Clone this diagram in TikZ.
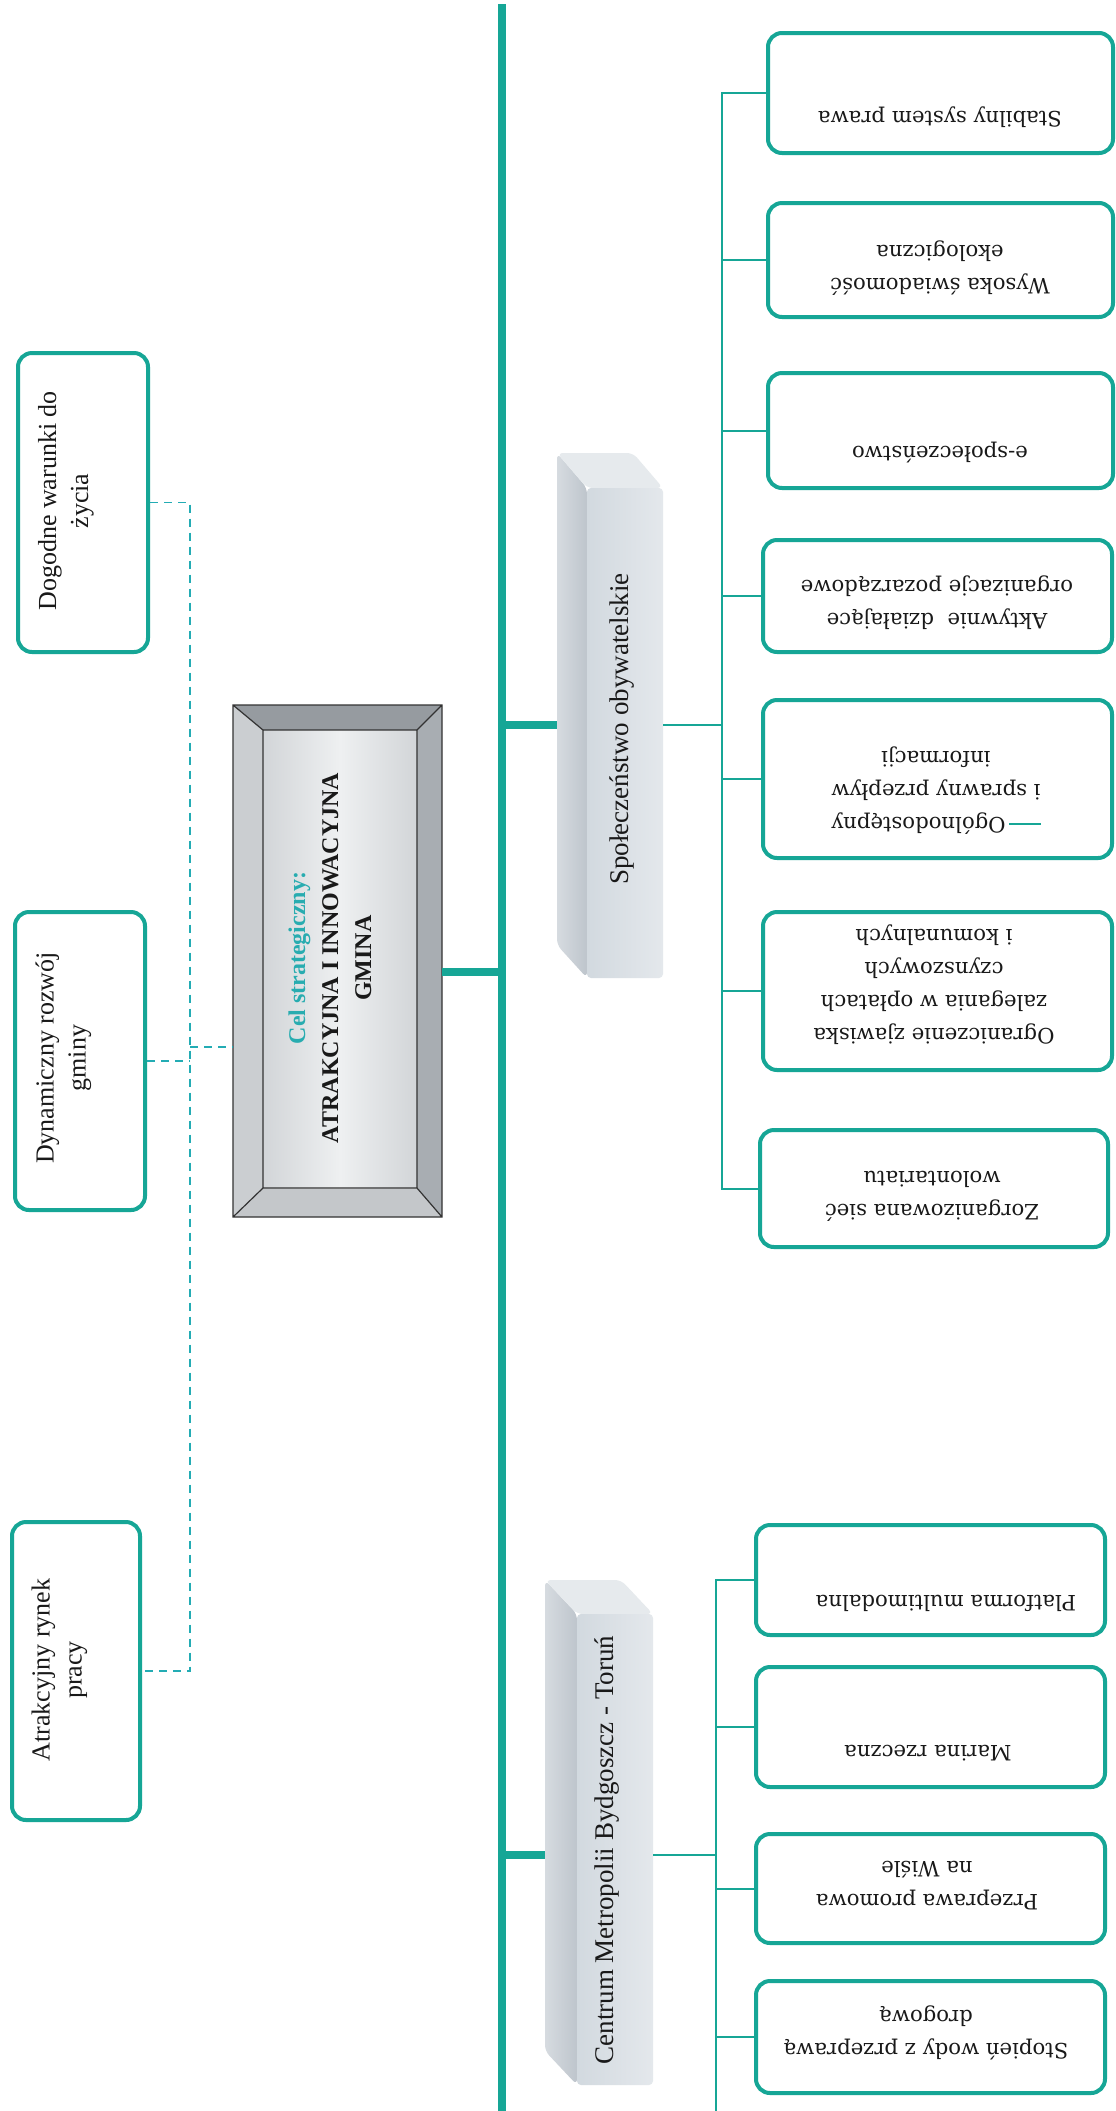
\documentclass[tikz,border=0pt]{standalone}
\usepackage{fontspec}
\setmainfont{Liberation Serif}
\newfontfamily\boxfont{DejaVu Serif}
\usetikzlibrary{calc}
\definecolor{teal1}{RGB}{22,166,150}
\definecolor{dashc}{RGB}{35,172,180}
\definecolor{celc}{RGB}{40,172,176}
\definecolor{txt}{RGB}{25,25,25}
\definecolor{barfront}{RGB}{210,217,223}
\definecolor{barfrontR}{RGB}{228,232,236}
\definecolor{barleft}{RGB}{190,197,204}
\definecolor{barleftL}{RGB}{214,219,224}
\definecolor{bartop}{RGB}{230,234,237}
\definecolor{bevtop}{RGB}{150,155,160}
\definecolor{bevright}{RGB}{168,173,178}
\definecolor{bevleft}{RGB}{203,206,209}
\definecolor{bevbot}{RGB}{196,199,202}
\definecolor{faceA}{RGB}{210,213,216}
\definecolor{faceB}{RGB}{238,240,241}
\begin{document}
\begin{tikzpicture}[x=0.5pt,y=-0.5pt,
  tealbox/.style={draw=teal1,line width=2pt,rounded corners=7pt,fill=white,inner sep=0pt},
  ltext/.style={rotate=90,align=center,font=\fontsize{13}{16}\selectfont,text=txt,inner sep=0pt},
  rtext/.style={rotate=180,align=center,font=\boxfont\fontsize{10.6}{16.5}\selectfont,text=txt,inner sep=0pt},
  bartext/.style={rotate=90,font=\fontsize{13.5}{16}\selectfont,text=txt,inner sep=0pt},
  ctext/.style={rotate=90,align=center,font=\bfseries\fontsize{12}{16.5}\selectfont,text=txt,inner sep=0pt},
  mainline/.style={draw=teal1,line width=4pt},
  thickconn/.style={draw=teal1,line width=4pt},
  thinconn/.style={draw=teal1,line width=1pt},
  dashconn/.style={draw=dashc,line width=0.9pt,dash pattern=on 4pt off 3pt},
  anchorbox/.style={inner sep=0pt,outer sep=0pt}
]
\useasboundingbox (0,0) rectangle (1115,2111);
\fill[white] (0,0) rectangle (1115,2111);

% ---------- main trunk ----------
\coordinate (mtop) at (502,4);
\coordinate (mbot) at (502,2111);
\draw[mainline] (mtop) -- (mbot);

% ---------- central box ----------
\fill[bevtop] (233,705) -- (442,705) -- (417,730) -- (263,730) -- cycle;
\fill[bevright] (442,705) -- (442,1217) -- (417,1188) -- (417,730) -- cycle;
\fill[bevbot] (233,1217) -- (442,1217) -- (417,1188) -- (263,1188) -- cycle;
\fill[bevleft] (233,705) -- (263,730) -- (263,1188) -- (233,1217) -- cycle;
\shade[left color=faceA,right color=faceA,middle color=faceB] (263,730) rectangle (417,1188);
\draw[line width=0.6pt,black!80] (233,705) rectangle (442,1217)
  (263,730) rectangle (417,1188)
  (233,705) -- (263,730) (442,705) -- (417,730)
  (442,1217) -- (417,1188) (233,1217) -- (263,1188);
\node[anchorbox,minimum width=104.5pt,minimum height=256pt] (cbox) at (337.5,961) {};
\node[ctext] (ct) at (330,958) {{\color{celc}Cel strategiczny:}\\ATRAKCYJNA I INNOWACYJNA\\GMINA};

% ---------- bar 1: Spoleczenstwo obywatelskie ----------
\shade[left color=barleftL,right color=barleft,rounded corners=3pt] (557,453) -- (587,488) -- (587,978) -- (557,945) -- cycle;
\fill[bartop,rounded corners=3pt] (557,453) -- (633,453) -- (663,488) -- (587,488) -- cycle;
\shade[left color=barfront,right color=barfrontR,rounded corners=2pt] (587,488) rectangle (663,978);
\node[anchorbox,minimum width=38pt,minimum height=245pt] (bar1) at (625,733) {};
\node[bartext] (bt1) at (622,729) {Społeczeństwo obywatelskie};

% ---------- bar 2: Centrum Metropolii ----------
\shade[left color=barleftL,right color=barleft,rounded corners=3pt] (545,1580) -- (577,1614) -- (577,2085) -- (545,2051) -- cycle;
\fill[bartop,rounded corners=3pt] (545,1580) -- (621,1580) -- (653,1614) -- (577,1614) -- cycle;
\shade[left color=barfront,right color=barfrontR,rounded corners=2pt] (577,1614) rectangle (653,2085);
\node[anchorbox,minimum width=38pt,minimum height=235.5pt] (bar2) at (615,1849.5) {};
\node[bartext] (bt2) at (607,1850) {Centrum Metropolii Bydgoszcz - Toruń};

% ---------- left boxes ----------
\node[tealbox,minimum width=65pt,minimum height=149.5pt] (L1) at (83,502.5) {};
\node[ltext] (s1) at (66,501) {Dogodne warunki do\\życia};
\node[tealbox,minimum width=65pt,minimum height=149pt] (L2) at (80,1061) {};
\node[ltext] (s2) at (63.5,1058) {Dynamiczny rozwój\\gminy};
\node[tealbox,minimum width=64pt,minimum height=149pt] (L3) at (76,1671) {};
\node[ltext] (s3) at (59.5,1670) {Atrakcyjny rynek\\pracy};

% ---------- right boxes, upper group ----------
\node[tealbox,minimum width=172.5pt,minimum height=60pt] (b1) at (940.5,93) {};
\node[rtext] (t1) at (940,117) {Stabilny system prawa};
\node[tealbox,minimum width=172.5pt,minimum height=57pt] (b2) at (940.5,260) {};
\node[rtext] (t2) at (940,268) {Wysoka świadomość\\ekologiczna};
\node[tealbox,minimum width=172.5pt,minimum height=57.5pt] (b3) at (940.5,430.5) {};
\node[rtext] (t3) at (940,453) {e-społeczeństwo};
\node[tealbox,minimum width=174.5pt,minimum height=56pt] (b4) at (937.5,596) {};
\node[rtext] (t4) at (937,603) {Aktywnie\ \ działające\\organizacje pozarządowe};
\node[tealbox,minimum width=174.5pt,minimum height=79pt] (b5) at (937.5,779) {};
\node[rtext] (t5) at (936,791) {{\color{teal1}\rule[2.5pt]{16pt}{1pt}}\hspace{1.5pt}Ogólnodostępny\\i sprawny przepływ\\informacji};
\node[tealbox,minimum width=174.5pt,minimum height=79pt] (b6) at (937.5,991) {};
\node[rtext] (t6) at (934,985) {Ograniczenie zjawiska\\zalegania w opłatach\\czynszowych\\i komunalnych};
\node[tealbox,minimum width=174pt,minimum height=58.5pt] (b7) at (934,1188.5) {};
\node[rtext] (t7) at (932,1196) {Zorganizowana sieć\\wolontariatu};

% ---------- right boxes, lower group ----------
\node[tealbox,minimum width=174.5pt,minimum height=55pt] (p1) at (930.5,1580) {};
\node[rtext] (q1) at (946,1603) {Platforma multimodalna};
\node[tealbox,minimum width=174.5pt,minimum height=60pt] (p2) at (930.5,1727) {};
\node[rtext] (q2) at (928,1753) {Marina rzeczna};
\node[tealbox,minimum width=174.5pt,minimum height=54.5pt] (p3) at (930.5,1888.5) {};
\node[rtext] (q3) at (927,1886) {Przeprawa promowa\\na Wiśle};
\node[tealbox,minimum width=174.5pt,minimum height=56pt] (p4) at (930.5,2037) {};
\node[rtext] (q4) at (926,2033) {Stopień wody z przeprawą\\drogową};

% ---------- connectors: centre ----------
\coordinate (jC) at (502,972);
\draw[thickconn] (cbox.east |- jC) -- (jC);

% ---------- connectors: left dashed ----------
\coordinate (dv) at (190,1047);
\draw[dashconn] (L1.east) -- (L1.east -| dv) -- (L3.east -| dv) -- (L3.east);
\draw[dashconn] (L2.east) -- (L2.east -| dv);
\draw[dashconn] (dv) -- (cbox.west |- dv);

% ---------- connectors: upper group ----------
\coordinate (jA) at (722,725);
\coordinate (bar1back) at (557,725);
\draw[thickconn] (bar1back -| mtop) -- (bar1back);
\draw[thinconn] (bar1.east |- jA) -- (jA);
\draw[thinconn] (b1.west) -- (b1.west -| jA) -- (b7.west -| jA) -- (b7.west);
\foreach \bb in {b2,b3,b4,b5,b6} \draw[thinconn] (\bb.west) -- (\bb.west -| jA);

% ---------- connectors: lower group ----------
\coordinate (jB) at (716,1855);
\coordinate (bar2back) at (545,1855);
\coordinate (jBend) at (716,2111);
\draw[thickconn] (bar2back -| mtop) -- (bar2back);
\draw[thinconn] (bar2.east |- jB) -- (jB);
\draw[thinconn] (p1.west) -- (p1.west -| jB) -- (jBend);
\foreach \bb in {p2,p3,p4} \draw[thinconn] (\bb.west) -- (\bb.west -| jB);
\end{tikzpicture}
\end{document}
